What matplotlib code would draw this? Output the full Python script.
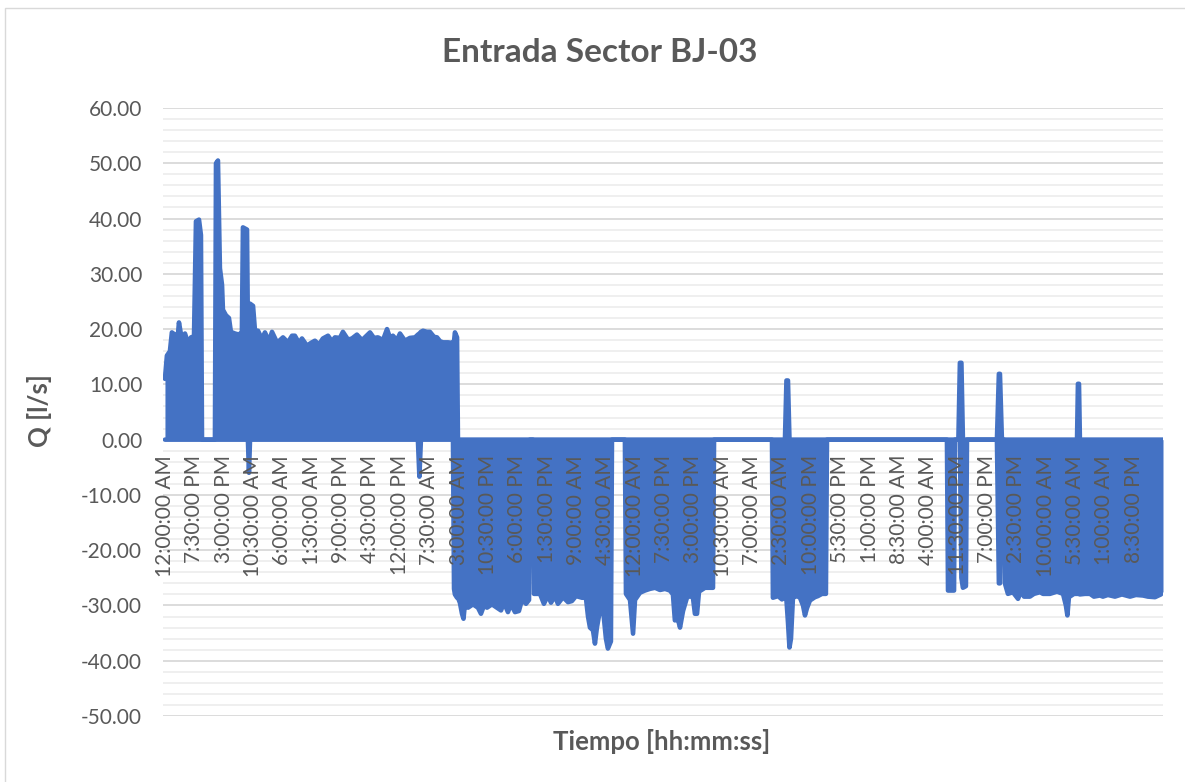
import matplotlib
matplotlib.use("Agg")
import matplotlib.pyplot as plt
from matplotlib.patches import Rectangle
from matplotlib.ticker import FuncFormatter

# ---- data: time in hours since start, per-interval max / min flow (l/s) ----
t_h = [0.0, 1.3, 3.3, 4.6, 6.6, 8.0, 9.3, 11.3, 13.3, 15.3,
       17.3, 19.3, 20.6, 22.6, 23.9, 24.6, 33.2, 33.9, 35.2, 36.5,
       37.9, 38.5, 40.5, 42.5, 43.8, 46.5, 49.2, 51.1, 51.8, 54.5,
       55.1, 55.8, 56.5, 58.5, 59.8, 61.8, 64.4, 66.4, 69.1, 71.1,
       74.4, 76.4, 78.4, 81.7, 84.4, 86.3, 89.0, 91.0, 94.3, 97.0,
       99.6, 102.3, 104.9, 108.3, 110.9, 112.9, 116.2, 118.2, 121.6, 124.2,
       127.5, 130.9, 133.5, 136.2, 138.8, 141.5, 144.8, 147.5, 149.5, 151.4,
       154.1, 156.1, 159.4, 162.7, 166.1, 168.0, 169.0, 170.0, 171.4, 174.0,
       176.0, 178.7, 180.7, 182.7, 184.7, 188.0, 190.6, 191.3, 192.0, 192.6,
       194.0, 194.6,
       195.9, 197.3, 198.3, 199.3, 201.3, 204.6, 207.9, 209.9, 211.9, 213.9,
       217.2, 220.5, 223.2, 225.2, 227.8, 229.8, 232.5, 235.1, 237.1, 239.8,
       241.8, 242.4, 244.4, 245.1, 249.1, 251.7, 254.4, 256.4, 259.0, 261.0,
       264.4, 267.7, 270.3, 273.0, 277.0, 279.6, 281.0, 282.3, 284.3, 285.6,
       286.9, 288.9, 290.9, 292.9, 294.2, 296.2, 296.9, 305.5, 306.2, 308.9,
       310.9, 312.2, 315.5, 318.8, 322.1, 325.5, 328.8, 332.1, 335.4, 337.4,
       338.7, 340.7, 342.1, 344.1, 346.7, 348.7, 350.7, 352.0, 353.4, 354.7,
       358.7, 362.0, 364.0, 364.7,
       403.2, 403.8, 407.2, 409.8, 411.8, 412.8, 413.8, 414.8, 415.8, 417.1,
       419.8, 421.8, 423.8, 425.1, 426.4, 428.4, 431.7, 433.7, 436.4, 439.0,
       439.7,
       519.4, 520.1, 524.1, 524.7, 527.0, 528.0, 529.0, 530.0, 532.0, 532.7,
       552.6, 553.9, 554.6, 555.9, 557.3, 557.9, 559.9, 563.2, 566.6, 568.6,
       570.6, 574.5, 577.2, 581.2, 583.2, 587.8, 592.5, 596.5, 598.4, 599.4,
       600.4, 603.8, 605.8, 606.4, 607.1, 607.7, 611.1, 614.4, 617.0, 621.0,
       623.0, 626.3, 631.0, 635.6, 641.0, 644.9, 649.6, 652.9, 657.6, 661.5,
       662.9]

q_max = [11.0, 15.2, 16.0, 19.4, 19.0, 17.0, 21.2, 18.0, 19.2, 17.5,
         18.5, 18.7, 39.5, 39.8, 37.0, 0.0, 0.0, 50.0, 50.5, 31.0,
         28.0, 23.5, 22.5, 22.0, 19.5, 19.2, 19.0, 19.5, 38.4, 38.0,
         20.0, 19.0, 24.6, 24.2, 19.7, 19.7, 18.2, 19.4, 17.8, 19.5,
         17.6, 18.0, 18.5, 17.6, 18.8, 18.8, 17.5, 18.3, 17.0, 17.5,
         17.9, 17.2, 18.3, 18.8, 17.8, 18.5, 18.4, 19.5, 18.1, 18.3,
         19.0, 18.0, 18.7, 19.4, 18.4, 18.5, 18.0, 20.0, 18.4, 18.8,
         18.0, 19.2, 17.9, 18.4, 18.5, 19.0, 19.2, 19.5, 19.7, 19.5,
         19.5, 18.6, 18.5, 17.8, 17.6, 17.6, 17.5, 17.6, 17.8, 19.4,
         18.5, 0.0,
         0, 0, 0, 0, 0, 0, 0, 0, 0, 0,
         0, 0, 0, 0, 0, 0, 0, 0, 0, 0,
         0, 0, 0, 0, 0, 0, 0, 0, 0, 0,
         0, 0, 0, 0, 0, 0, 0, 0, 0, 0,
         0, 0, 0, 0, 0, 0, 0, 0, 0, 0,
         0, 0, 0, 0, 0, 0, 0, 0, 0, 0,
         0, 0, 0, 0, 0, 0, 0, 0, 0, 0,
         0, 0, 0, 0,
         0, 0, 0, 0, 0, 10.7, 10.7, 0, 0, 0,
         0, 0, 0, 0, 0, 0, 0, 0, 0, 0,
         0,
         0, 0, 0, 0, 0, 13.9, 13.9, 0, 0, 0,
         0, 11.9, 11.9, 0, 0, 0, 0, 0, 0, 0,
         0, 0, 0, 0, 0, 0, 0, 0, 0, 0,
         0, 0, 0, 10.1, 10.1, 0, 0, 0, 0, 0,
         0, 0, 0, 0, 0, 0, 0, 0, 0, 0,
         0]

q_min = [0, 0, 0, 0, 0, 0, 0, 0, 0, 0,
         0, 0, 0, 0, 0, 0, 0, 0, 0, 0,
         0, 0, 0, 0, 0, 0, 0, 0, 0, 0,
         0, -6.0, 0, 0, 0, 0, 0, 0, 0, 0,
         0, 0, 0, 0, 0, 0, 0, 0, 0, 0,
         0, 0, 0, 0, 0, 0, 0, 0, 0, 0,
         0, 0, 0, 0, 0, 0, 0, 0, 0, 0,
         0, 0, 0, 0, 0, 0, -6.7, 0, 0, 0,
         0, 0, 0, 0, 0, 0, 0, 0, -27.0, -28.0,
         -28.6, -28.6,
         -29.5, -31.5, -32.4, -29.5, -30.4, -29.8, -30.4, -31.5, -30.0, -30.4,
         -29.8, -30.4, -30.9, -29.5, -31.2, -29.8, -31.2, -31.0, -29.0, -29.7,
         -29.0, 0, 0, -27.9, -27.9, -29.7, -28.2, -29.5, -28.3, -29.7,
         -28.5, -29.4, -29.2, -28.3, -28.6, -28.6, -32.0, -34.0, -34.5, -36.9,
         -34.0, -30.9, -30.5, -36.0, -37.8, -36.5, 0, 0, -27.9, -29.0,
         -35.1, -29.0, -27.7, -27.3, -27.0, -26.8, -27.2, -27.0, -27.3, -28.0,
         -32.7, -32.5, -34.0, -31.0, -28.6, -28.3, -28.6, -31.5, -31.5, -27.5,
         -26.8, -26.8, -26.8, 0,
         0, -28.6, -28.3, -28.9, -28.5, -29.0, -33.0, -37.6, -36.0, -28.6,
         -28.3, -28.6, -30.0, -31.8, -30.5, -29.1, -28.5, -28.3, -27.9, -27.9,
         0,
         0, -27.3, -27.3, 0, 0, 0, -25.0, -26.8, -26.5, 0,
         0, -26.0, -26.0, 0, 0, -26.0, -27.9, -27.6, -28.8, -27.5,
         -28.4, -28.4, -27.9, -27.6, -27.9, -27.9, -27.5, -27.9, -30.0, -31.8,
         -28.5, -27.9, -27.9, -27.9, -27.9, -28.0, -27.9, -27.9, -28.4, -28.2,
         -28.4, -28.1, -28.4, -28.0, -28.4, -28.1, -28.2, -28.4, -28.5, -28.0,
         -27.5]

x_labels = ["12:00:00 AM", "7:30:00 PM", "3:00:00 PM", "10:30:00 AM", "6:00:00 AM", "1:30:00 AM",
            "9:00:00 PM", "4:30:00 PM", "12:00:00 PM", "7:30:00 AM", "3:00:00 AM", "10:30:00 PM",
            "6:00:00 PM", "1:30:00 PM", "9:00:00 AM", "4:30:00 AM", "12:00:00 AM", "7:30:00 PM",
            "3:00:00 PM", "10:30:00 AM", "7:00:00 AM", "2:30:00 AM", "10:00:00 PM", "5:30:00 PM",
            "1:00:00 PM", "8:30:00 AM", "4:00:00 AM", "11:30:00 PM", "7:00:00 PM", "2:30:00 PM",
            "10:00:00 AM", "5:30:00 AM", "1:00:00 AM", "8:30:00 PM"]
label_step_h = 19.5

title = "Entrada Sector BJ-03"
x_title = "Tiempo [hh:mm:ss]"
y_title = "Q [l/s]"

# ---- style ----
FONT = ["Lato", "DejaVu Sans"]
plt.rcParams["font.family"] = FONT
TXT = "#595959"
BLUE = "#4472C4"

W, H = 1185, 782
fig = plt.figure(figsize=(W / 100, H / 100), dpi=100)
ax = fig.add_axes([163 / W, 1 - 716 / H, 1000 / W, 608 / H])
ax.set_axisbelow(False)

# chart border (only top/left edges visible in reference)
fig.patches.append(Rectangle((5 / W, -0.1), 1.2, (1 - 8 / H) + 0.1, transform=fig.transFigure,
                             fill=False, ec="#d9d9d9", lw=1.0))

# gridlines
for v in range(-50, 61, 2):
    ax.axhline(v, color="#d9d9d9" if v % 10 == 0 else "#eeeeee", lw=1.3, zorder=0.5)

# series
ax.fill_between(t_h, q_min, q_max, color=BLUE, lw=0, zorder=2)
ax.plot(t_h, q_max, color=BLUE, lw=3.3, solid_joinstyle="round", solid_capstyle="round", zorder=2.1)
ax.plot(t_h, q_min, color=BLUE, lw=3.3, solid_joinstyle="round", solid_capstyle="round", zorder=2.1)

ax.set_xlim(-1.3, 662.9)
ax.set_ylim(-50, 60)

for s in ax.spines.values():
    s.set_visible(False)
ax.spines["bottom"].set_position(("data", 0))

ax.set_xticks([label_step_h * k for k in range(len(x_labels))])
ax.set_xticklabels(x_labels, rotation=90, fontsize=15, color=TXT)
ax.tick_params(axis="x", length=0, pad=11)
for lbl in ax.get_xticklabels():
    lbl.set_zorder(5)

ax.set_yticks(range(-50, 61, 10))
ax.yaxis.set_major_formatter(FuncFormatter(lambda v, p: f"{v:.2f}"))
ax.tick_params(axis="y", length=0, pad=15, labelsize=15, labelcolor=TXT)

fig.text(600 / W, 1 - 52 / H, title, ha="center", va="center", fontsize=24,
         fontweight="bold", color=TXT)
fig.text(40 / W, 1 - 411 / H, y_title, ha="center", va="center", rotation=90, fontsize=18.5,
         fontweight="bold", color=TXT)
fig.text(662 / W, 1 - 742 / H, x_title, ha="center", va="center", fontsize=18.5,
         fontweight="bold", color=TXT)

fig.savefig("out.png", dpi=100)
